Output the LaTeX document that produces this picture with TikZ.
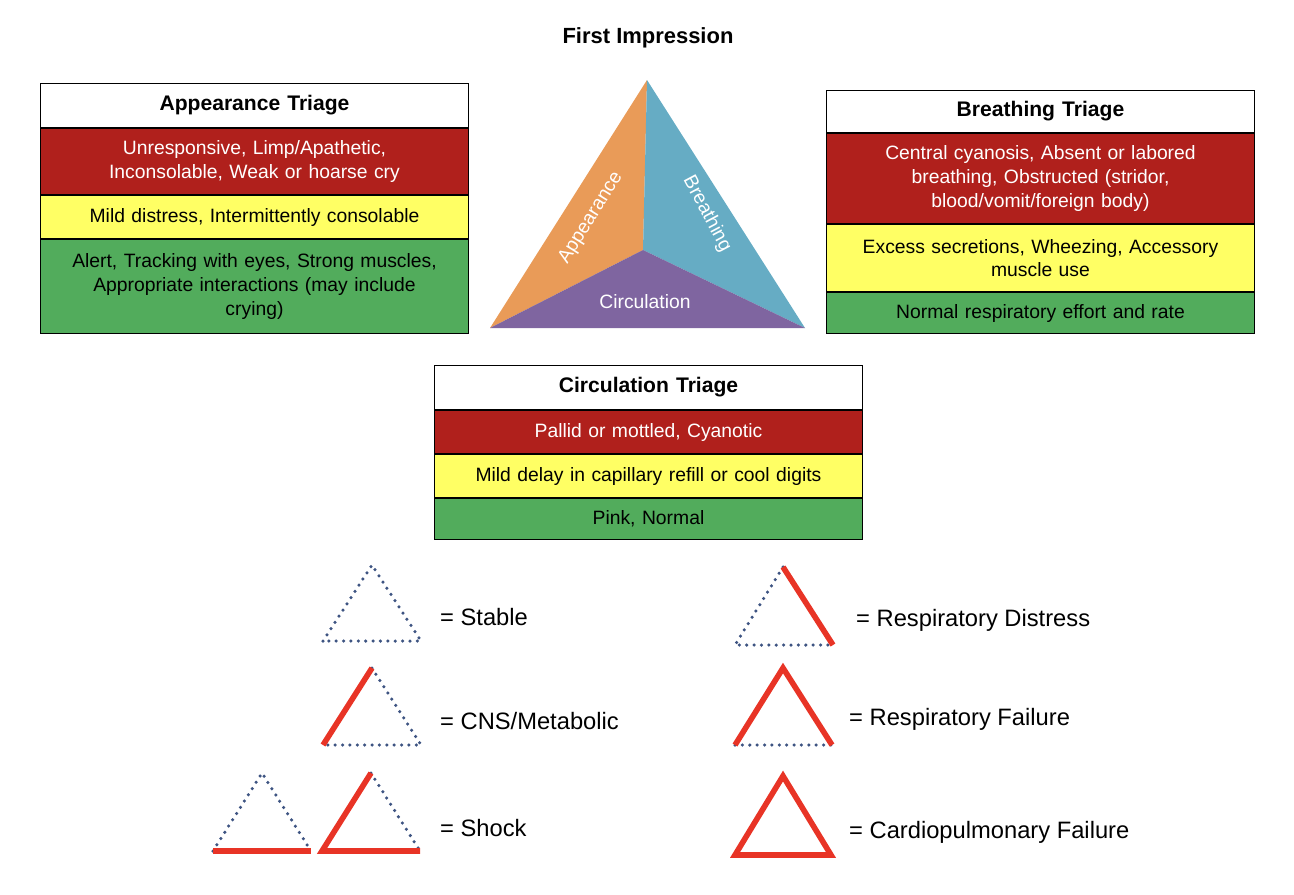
\documentclass[tikz,border=0pt]{standalone}
\usepackage{fontspec}
\setmainfont{Liberation Sans}
\usetikzlibrary{positioning}
\definecolor{trired}{RGB}{176,32,28}
\definecolor{triyellow}{RGB}{255,255,100}
\definecolor{trigreen}{RGB}{82,172,92}
\definecolor{pat}{RGB}{233,155,88}
\definecolor{pbr}{RGB}{102,172,196}
\definecolor{pci}{RGB}{127,101,160}
\definecolor{legred}{RGB}{232,52,38}
\definecolor{legblue}{RGB}{62,84,130}

\begin{document}
\begin{tikzpicture}[x=0.02cm, y=-0.02cm,
    cell/.style={draw=black, line width=0.6pt, minimum width=8.56cm, text width=8.4cm,
        align=center, inner xsep=0.08cm, inner ysep=0pt, font=\fontsize{11}{13.5}\selectfont},
    head/.style={cell, fill=white, font=\fontsize{12}{14}\selectfont\bfseries},
    bad/.style={cell, fill=trired, text=white},
    mid/.style={cell, fill=triyellow},
    good/.style={cell, fill=trigreen},
    dotside/.style={legblue, line width=2pt, dash pattern=on 0pt off 4.2pt, line cap=round},
    redside/.style={legred, line width=3.2pt},
    legend/.style={anchor=west, font=\fontsize{13.5}{16}\selectfont}
]
\useasboundingbox (0,0) rectangle (1294,894);
\node[font=\fontsize{12.5}{14}\selectfont\bfseries] (title) at (648,38) {First Impression};

% appearance
\node[head, minimum height=0.88cm, anchor=north west] (ahead) at (40,83) {Appearance Triage};
\node[bad, minimum height=1.32cm, below=0pt of ahead] (ared) {Unresponsive, Limp/Apathetic,\\Inconsolable, Weak or hoarse cry};
\node[mid, minimum height=0.86cm, below=0pt of ared] (ayel) {Mild distress, Intermittently consolable};
\node[good, minimum height=1.88cm, below=0pt of ayel] (agrn) {Alert, Tracking with eyes, Strong muscles,\\Appropriate interactions (may include\\crying)};

% breathing
\node[head, minimum height=0.84cm, anchor=north west] (bhead) at (826,90) {Breathing Triage};
\node[bad, minimum height=1.8cm, below=0pt of bhead] (bred) {Central cyanosis, Absent or labored\\breathing, Obstructed (stridor,\\blood/vomit/foreign body)};
\node[mid, minimum height=1.34cm, below=0pt of bred] (byel) {Excess secretions, Wheezing, Accessory\\muscle use};
\node[good, minimum height=0.82cm, below=0pt of byel] (bgrn) {Normal respiratory effort and rate};

% circulation
\node[head, minimum height=0.88cm, anchor=north west] (chead) at (434,365) {Circulation Triage};
\node[bad, minimum height=0.86cm, below=0pt of chead] (cred) {Pallid or mottled, Cyanotic};
\node[mid, minimum height=0.86cm, below=0pt of cred] (cyel) {Mild delay in capillary refill or cool digits};
\node[good, minimum height=0.82cm, below=0pt of cyel] (cgrn) {Pink, Normal};

% triangle
\coordinate (top) at (647,80);
\coordinate (lft) at (490,328);
\coordinate (rgt) at (805,328);
\coordinate (ctr) at (643,250);
\fill[pat] (top) -- (ctr) -- (lft) -- cycle;
\fill[pbr] (top) -- (rgt) -- (ctr) -- cycle;
\fill[pci] (lft) -- (ctr) -- (rgt) -- cycle;
\node[text=white, rotate=58, inner sep=0pt, font=\fontsize{11}{12}\selectfont] (tapp) at (591,218) {Appearance};
\node[text=white, rotate=-62, inner sep=0pt, font=\fontsize{11}{12}\selectfont] (tbre) at (707,214) {Breathing};
\node[text=white, font=\fontsize{11}{12}\selectfont] (tcir) at (645,302) {Circulation};

% legend
\draw[dotside] (323,641) -- (372,565) -- (421,641) -- cycle;
\node[legend] (lstab) at (434,617) {= Stable};

\draw[dotside] (372,668) -- (421,745) -- (323,745);
\draw[redside] (323,745) -- (372,668);
\node[legend] (lcns) at (434,721) {= CNS/Metabolic};

\draw[dotside] (213,851) -- (262,773) -- (311,851);
\draw[redside] (213,851) -- (311,851);
\draw[dotside] (371,773) -- (420,851);
\draw[redside] (420,851) -- (322,851) -- (371,773);
\node[legend] (lshk) at (434,828) {= Shock};

\draw[dotside] (783,567) -- (735,645) -- (833,645);
\draw[redside] (783,567) -- (833,645);
\node[legend] (lrd) at (850,620) {= Respiratory Distress};

\draw[dotside] (735,745) -- (832,745);
\draw[redside, line join=miter] (735,745) -- (783,668) -- (832,745);
\node[legend] (lrf) at (843,719) {= Respiratory Failure};

\draw[redside, line join=miter] (735,855) -- (783,776) -- (831,855) -- cycle;
\node[legend] (lcf) at (843,832) {= Cardiopulmonary Failure};
\end{tikzpicture}
\end{document}
